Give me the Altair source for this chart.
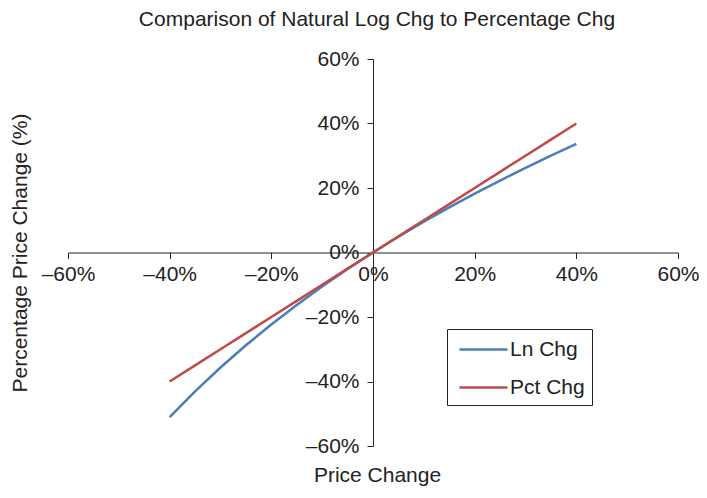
import altair as alt
import pandas as pd

price_change = [-0.40, -0.35, -0.30, -0.25, -0.20, -0.15, -0.10, -0.05, 0.00,
                0.05, 0.10, 0.15, 0.20, 0.25, 0.30, 0.35, 0.40]
ln_chg = [-0.5108, -0.4308, -0.3567, -0.2877, -0.2231, -0.1625, -0.1054, -0.0513, 0.0,
          0.0488, 0.0953, 0.1398, 0.1823, 0.2231, 0.2624, 0.3001, 0.3365]
pct_chg = [-0.40, -0.35, -0.30, -0.25, -0.20, -0.15, -0.10, -0.05, 0.00,
           0.05, 0.10, 0.15, 0.20, 0.25, 0.30, 0.35, 0.40]
series_names = ["Ln Chg", "Pct Chg"]
series_colors = ["#4A7EBB", "#BE4B48"]
tick_values = [-0.6, -0.4, -0.2, 0.0, 0.2, 0.4, 0.6]

rows = []
for x, a, b in zip(price_change, ln_chg, pct_chg):
    rows.append({"x": x, "y": a, "series": series_names[0]})
    rows.append({"x": x, "y": b, "series": series_names[1]})
df = pd.DataFrame(rows)

W, H = 610, 387
FONT = "Liberation Sans"
FS = 21
label_expr = "datum.value < 0 ? '\u2013' + format(-datum.value, '.0%') : format(datum.value, '.0%')"

chart = alt.Chart(df).mark_line(strokeWidth=2.5).encode(
    x=alt.X("x:Q",
            scale=alt.Scale(domain=[-0.6, 0.6], nice=False, zero=False),
            axis=alt.Axis(values=tick_values, labelExpr=label_expr, grid=False,
                          offset=-H / 2, tickSize=6, labelPadding=5,
                          labelFontSize=FS, labelColor="#222", labelFont=FONT,
                          domainColor="#222", tickColor="#222",
                          title="Price Change", titleFont=FONT, titleFontSize=FS,
                          titleFontWeight="normal", titleColor="#222",
                          titleX=309, titleY=212, titleBaseline="top", labelFlush=False)),
    y=alt.Y("y:Q",
            scale=alt.Scale(domain=[-0.6, 0.6], nice=False, zero=False),
            axis=alt.Axis(values=tick_values, labelExpr=label_expr, grid=False,
                          offset=-W / 2, tickSize=6, labelPadding=8,
                          labelFontSize=FS, labelColor="#222", labelFont=FONT,
                          domainColor="#222", tickColor="#222",
                          title="Percentage Price Change (%)", titleFont=FONT,
                          titleFontSize=FS, titleFontWeight="normal", titleColor="#222",
                          titleX=-(W / 2) - 48, titleY=H / 2, titleAngle=-90,
                          titleBaseline="middle", labelFlush=False)),
    color=alt.Color("series:N",
                    scale=alt.Scale(domain=series_names, range=series_colors),
                    legend=alt.Legend(title=None, orient="none", legendX=379, legendY=270,
                                      symbolType="M-2,0L2,0", symbolSize=576,
                                      symbolStrokeWidth=2.5, labelFontSize=FS,
                                      labelFont=FONT, labelColor="#222",
                                      strokeColor="#222", padding=7,
                                      symbolOffset=16,
                                      rowPadding=14, labelOffset=13)),
).properties(
    width=W, height=H,
    title=alt.TitleParams("Comparison of Natural Log Chg to Percentage Chg",
                          font=FONT, fontSize=FS, fontWeight="normal", color="#222",
                          anchor="middle", offset=18, dx=4),
    padding={"left": 60, "top": 51, "right": 21, "bottom": 44},
    autosize=alt.AutoSizeParams(type="none"),
).configure_view(stroke=None)

chart.save("out.html", embed_options={"renderer": "svg", "actions": False})
